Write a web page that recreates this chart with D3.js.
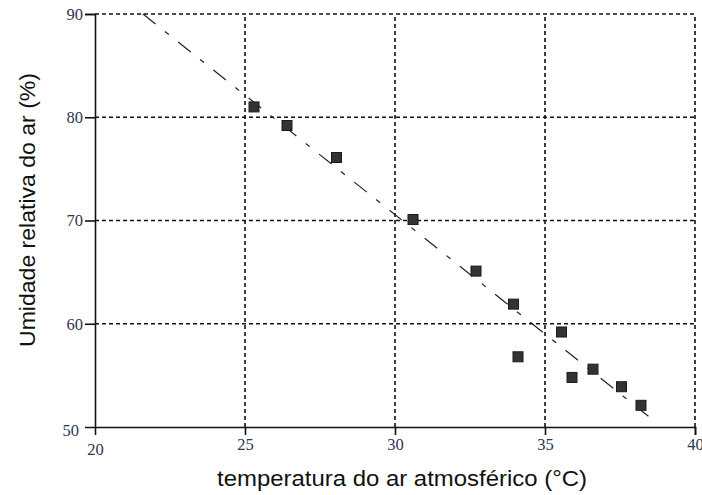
<!DOCTYPE html>
<html>
<head>
<meta charset="utf-8">
<script src="https://cdn.jsdelivr.net/npm/d3@7"></script>
<style>
  body { margin: 0; background: #fff; }
  .tick text { font-family: "Liberation Serif", "DejaVu Serif", serif; font-size: 16.5px; fill: #2e3550; }
  .axis-title { font-family: "Liberation Sans", Arial, sans-serif; font-size: 22.5px; fill: #111; }
</style>
</head>
<body>
<svg id="chart"></svg>
<script>
// temperature (°C) and relative humidity (%)
const temperatura = [25.3, 26.4, 28.05, 30.6, 32.7, 33.95, 34.1, 35.55, 35.9, 36.6, 37.55, 38.2];
const umidade = [81.0, 79.2, 76.1, 70.1, 65.1, 61.9, 56.8, 59.2, 54.8, 55.6, 53.9, 52.1];

// end points of the fitted line
const fitX = [21.6, 38.55];
const fitY = [90, 50.8];

const xTicks = [20, 25, 30, 35, 40];
const yTicks = [50, 60, 70, 80, 90];

const width = 702;
const height = 495;
const margin = { top: 14, right: 6, bottom: 68, left: 95 };

const svg = d3.select("#chart").attr("width", width).attr("height", height);

const x = d3.scaleLinear().domain([20, 40]).range([margin.left, width - margin.right - 1]);
const y = d3.scaleLinear().domain([50, 90]).range([height - margin.bottom, margin.top]);

// dotted grid (also draws the top and right frame)
svg.append("g")
  .selectAll("line")
  .data(xTicks.slice(1))
  .enter()
  .append("line")
  .attr("x1", (d) => x(d)).attr("x2", (d) => x(d))
  .attr("y1", y(50)).attr("y2", y(90))
  .attr("stroke", "#111")
  .attr("stroke-width", 1.6)
  .attr("stroke-dasharray", "4,3");

svg.append("g")
  .selectAll("line")
  .data(yTicks.slice(1))
  .enter()
  .append("line")
  .attr("x1", x(20)).attr("x2", x(40))
  .attr("y1", (d) => y(d)).attr("y2", (d) => y(d))
  .attr("stroke", "#111")
  .attr("stroke-width", 1.6)
  .attr("stroke-dasharray", "4,3");

// axes
const xAxis = svg.append("g")
  .attr("transform", `translate(0,${y(50)})`)
  .call(d3.axisBottom(x).tickValues(xTicks).tickSize(8).tickPadding(3));

const yAxis = svg.append("g")
  .attr("transform", `translate(${x(20)},0)`)
  .call(d3.axisLeft(y).tickValues(yTicks).tickSize(10).tickPadding(2));

[xAxis, yAxis].forEach((a) => {
  a.select(".domain").attr("stroke", "#111").attr("stroke-width", 1.6);
  a.selectAll(".tick line").attr("stroke", "#111").attr("stroke-width", 1.6);
});
xAxis.selectAll(".tick").filter((d) => d === 20).select("line").remove();
yAxis.selectAll(".tick").filter((d) => d === 50).select("line").remove();
yAxis.selectAll(".tick").filter((d) => d === 50).select("text").attr("dx", -4).attr("dy", "0.5em");
xAxis.selectAll(".tick").filter((d) => d === 20).select("text").attr("dy", "1.0em");

// fitted line, dash-dot
svg.append("line")
  .attr("x1", x(fitX[0])).attr("y1", y(fitY[0]))
  .attr("x2", x(fitX[1])).attr("y2", y(fitY[1]))
  .attr("stroke", "#222")
  .attr("stroke-width", 1.2)
  .attr("stroke-dasharray", "16,12,5,12");

// points
const s = 10;
svg.append("g")
  .selectAll("rect")
  .data(temperatura)
  .enter()
  .append("rect")
  .attr("x", (d) => x(d) - s / 2)
  .attr("y", (d, i) => y(umidade[i]) - s / 2)
  .attr("width", s)
  .attr("height", s)
  .attr("fill", "#333")
  .attr("stroke", "#1a1a1a")
  .attr("stroke-width", 1);

// axis titles
svg.append("text")
  .attr("class", "axis-title")
  .attr("x", 402)
  .attr("y", 486)
  .attr("text-anchor", "middle")
  .attr("textLength", 370)
  .attr("lengthAdjust", "spacingAndGlyphs")
  .text("temperatura do ar atmosférico (°C)");

svg.append("text")
  .attr("class", "axis-title")
  .attr("transform", `translate(35,210) rotate(-90)`)
  .attr("text-anchor", "middle")
  .attr("textLength", 274)
  .attr("lengthAdjust", "spacingAndGlyphs")
  .text("Umidade relativa do ar (%)");
</script>
</body>
</html>
